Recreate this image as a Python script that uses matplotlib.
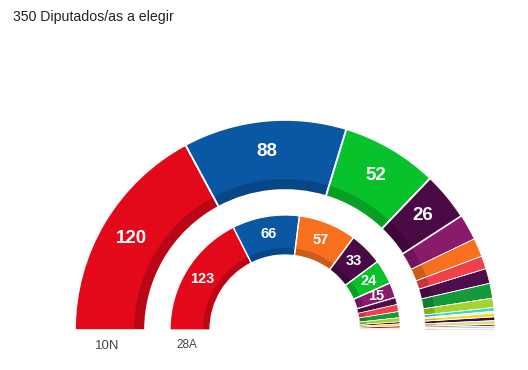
import matplotlib
matplotlib.use("Agg")
import matplotlib.pyplot as plt
import numpy as np
from matplotlib.colors import to_rgb

plt.rcParams['font.family'] = ['Liberation Sans', 'DejaVu Sans']

total_seats = 350
title = "350 Diputados/as a elegir"

# 10N (outer ring)
seats_10n = [120, 88, 52, 26, 14, 10, 7, 8, 8, 5, 2, 1, 2, 2, 2, 1, 1, 1]
colors_10n = ["#e3091a", "#0a57a4", "#08c22c", "#4a0a46", "#8b1a6b", "#f86f1e",
              "#f2404a", "#4e0d4b", "#149a3a", "#a6d22c", "#36dcc8", "#f4f0a8",
              "#f2d82a", "#3f0a3a", "#cfe08a", "#a2280f", "#9fd3ec", "#d8d8d8"]

# 28A (inner ring)
seats_28a = [123, 66, 57, 33, 24, 15, 7, 7, 6, 4, 2, 2, 2, 1, 1]
colors_28a = ["#e3091a", "#0a57a4", "#f86f1e", "#4a0a46", "#08c22c", "#8b1a6b",
              "#4e0d4b", "#f2404a", "#149a3a", "#a6d22c", "#3f0a3a", "#f2d82a",
              "#a2280f", "#f8a04a", "#9fd3ec"]

ring_labels = ["10N", "28A"]

W, H = 528, 370
fig = plt.figure(figsize=(W / 100, H / 100), dpi=100)
ax = fig.add_axes([0, 0, 1, 1])

cx, cy = 285, 40


def darken(c, f=0.82):
    r, g, b = to_rgb(c)
    return (r * f, g * f, b * f)


def ring(values, colors, radius, width, band, label_r, fs, lw_big, lw_small):
    vals = list(values) + [total_seats]
    common = dict(startangle=180, counterclock=False, center=(cx, cy), frame=True)
    ax.pie(vals, colors=list(colors) + ["none"], radius=radius,
           wedgeprops=dict(width=width, edgecolor="none", linewidth=0), **common)
    ax.pie(vals, colors=[darken(c) for c in colors] + ["none"],
           radius=radius - width + band,
           wedgeprops=dict(width=band, edgecolor="none", linewidth=0), **common)
    w3, _ = ax.pie(vals, colors=["none"] * len(vals), radius=radius,
                   wedgeprops=dict(width=width, edgecolor="white", linewidth=lw_small), **common)
    for w, v in zip(w3, values):
        if v >= 15:
            w.set_linewidth(lw_big)
    w3[-1].set_edgecolor("none")
    cum = 0
    for v in values:
        mid = 180 - (cum + v / 2) / total_seats * 180
        cum += v
        if v >= 15:
            a = np.deg2rad(mid)
            ax.text(cx + label_r * np.cos(a), cy + label_r * np.sin(a), str(v),
                    color="white", fontsize=fs, fontweight="bold",
                    ha="center", va="center")


ring(seats_10n, colors_10n, 210, 70, 11, 179, 13.5, 1.2, 0.5)
ring(seats_28a, colors_28a, 115, 40, 7, 97, 10.5, 0.9, 0.4)

ax.set_xlim(0, W)
ax.set_ylim(0, H)
ax.set_aspect("equal")
ax.axis("off")

fig.text(13 / W, 1 - 17 / H, title, fontsize=10.2, color="#222222", ha="left", va="center")
ax.text(107, H - 346, ring_labels[0], fontsize=9.5, color="#444444", ha="center", va="center")
ax.text(187, H - 345, ring_labels[1], fontsize=8.5, color="#444444", ha="center", va="center")

fig.savefig("out.png", dpi=100, facecolor="white")
